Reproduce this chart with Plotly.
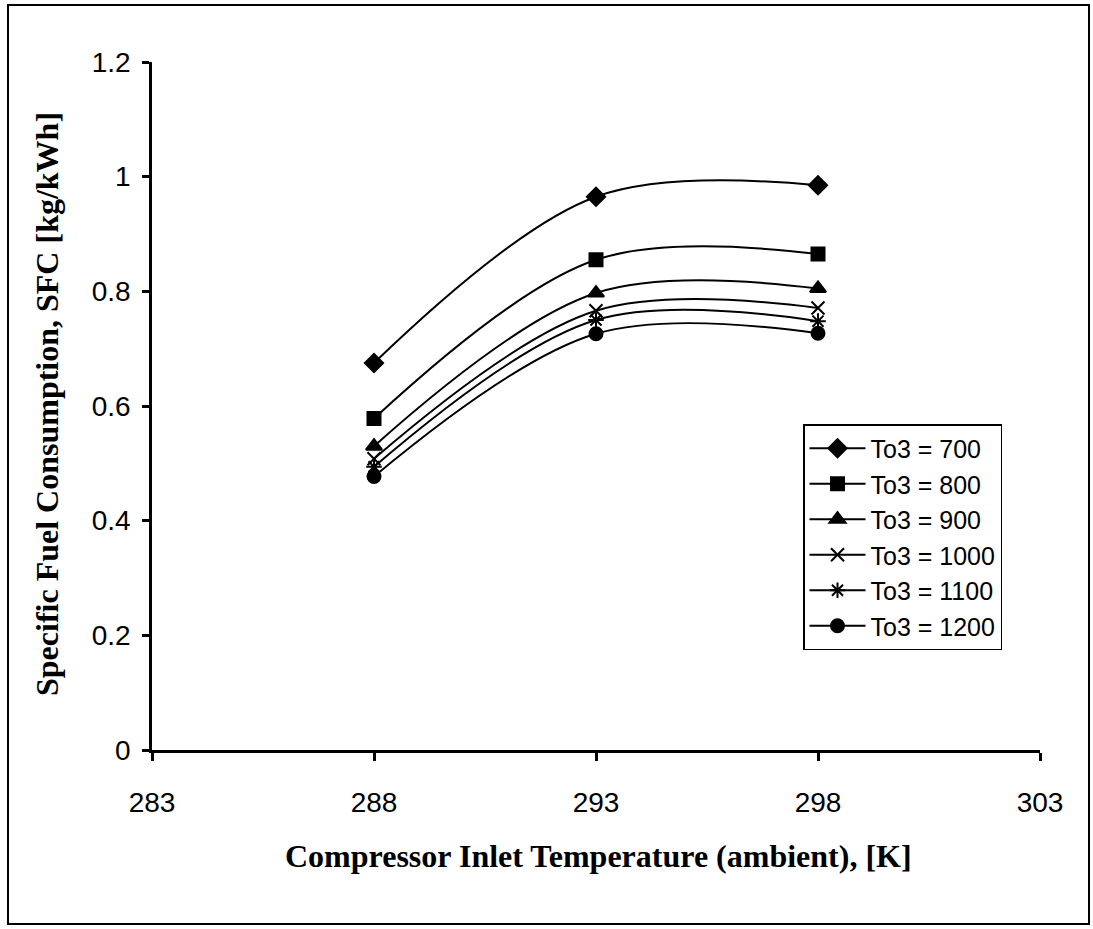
import plotly.graph_objects as go

x_vals = [288, 293, 298]
series_names = ["To3 = 700", "To3 = 800", "To3 = 900", "To3 = 1000", "To3 = 1100", "To3 = 1200"]
sfc_700 = [0.675, 0.965, 0.985]
sfc_800 = [0.578, 0.855, 0.865]
sfc_900 = [0.530, 0.797, 0.805]
sfc_1000 = [0.508, 0.766, 0.771]
sfc_1100 = [0.494, 0.750, 0.748]
sfc_1200 = [0.477, 0.726, 0.727]
series_values = [sfc_700, sfc_800, sfc_900, sfc_1000, sfc_1100, sfc_1200]
symbols = ["diamond", "square", "triangle-up", "x-thin-open", "asterisk-open", "circle"]
sizes = [14, 13, 14, 13, 13, 13]

x_ticks = [283, 288, 293, 298, 303]
y_ticks = [0, 0.2, 0.4, 0.6, 0.8, 1, 1.2]
y_tick_text = ["0", "0.2", "0.4", "0.6", "0.8", "1", "1.2"]

fig = go.Figure()
for name, vals, sym, sz in zip(series_names, series_values, symbols, sizes):
    fig.add_trace(go.Scatter(
        x=x_vals, y=vals, name=name, mode="lines+markers",
        legendgroup=name,
        line=dict(color="black", width=2, shape="spline", smoothing=1),
        marker=dict(symbol=sym, size=sz, color="black",
                    line=dict(color="black", width=2)),
    ))

L, R, T, B = 152, 53, 62, 179
W, H = 1093, 929
pw, ph = W - L - R, H - T - B

def px_x(px):
    return (px - L) / pw

def px_y(py):
    return (H - B - py) / ph

fig.update_layout(
    width=W, height=H,
    margin=dict(l=L, r=R, t=T, b=B),
    paper_bgcolor="white", plot_bgcolor="white",
    font=dict(family="Liberation Sans, Arial", color="black"),
    showlegend=True,
    legend=dict(
        x=px_x(803), y=px_y(424), xanchor="left", yanchor="top",
        bgcolor="white", bordercolor="black", borderwidth=1.5,
        font=dict(size=25, family="Liberation Sans, Arial", color="black"),
        tracegroupgap=0, itemwidth=56,
    ),
    xaxis=dict(
        range=[283, 303], tickvals=x_ticks, ticktext=[str(v) for v in x_ticks],
        showgrid=False, zeroline=False, showline=True, linecolor="black", linewidth=2.5,
        ticks="outside", ticklen=8, tickwidth=2.5, tickcolor="black",
        tickfont=dict(size=28), ticklabelstandoff=18,
    ),
    yaxis=dict(
        range=[0, 1.2], tickvals=y_ticks, ticktext=y_tick_text,
        showgrid=False, zeroline=False, showline=True, linecolor="black", linewidth=2.5,
        ticks="outside", ticklen=7, tickwidth=2.5, tickcolor="black",
        tickfont=dict(size=28), ticklabelstandoff=6,
    ),
    annotations=[
        dict(text="<b>Compressor Inlet Temperature (ambient), [K]</b>",
             xref="paper", yref="paper", x=px_x(598), y=px_y(856),
             xanchor="center", yanchor="middle", showarrow=False,
             font=dict(family="Liberation Serif, Times New Roman", size=32, color="black")),
        dict(text="<b>Specific Fuel Consumption, SFC [kg/kWh]</b>",
             xref="paper", yref="paper", x=px_x(47), y=px_y(404),
             xanchor="center", yanchor="middle", showarrow=False, textangle=-90,
             font=dict(family="Liberation Serif, Times New Roman", size=32, color="black")),
    ],
    shapes=[
        dict(type="rect", xref="paper", yref="paper",
             x0=px_x(8), x1=px_x(1089), y0=px_y(924), y1=px_y(5),
             line=dict(color="black", width=2), fillcolor="rgba(0,0,0,0)", layer="below"),
    ],
)

fig.write_html("out.html")
